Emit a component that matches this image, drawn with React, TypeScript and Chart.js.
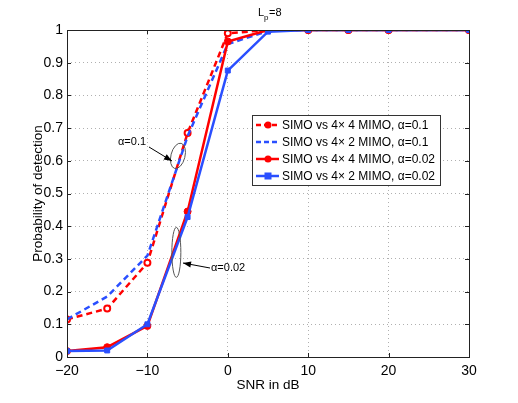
import React, { useEffect, useRef } from "react";
import { Chart, registerables } from "chart.js";

Chart.register(...registerables);

const snr = [-20, -15, -10, -5, 0, 5, 10, 15, 20, 30];
const pd44a01 = [0.115, 0.148, 0.288, 0.685, 0.99, 1, 1, 1, 1, 1];
const pd42a01 = [0.115, 0.185, 0.31, 0.675, 0.957, 0.997, 1, 1, 1, 1];
const pd44a002 = [0.018, 0.03, 0.095, 0.445, 0.965, 1, 1, 1, 1, 1];
const pd42a002 = [0.018, 0.02, 0.1, 0.428, 0.876, 0.995, 1, 1, 1, 1];
const legendLabels = [
  "SIMO vs 4\u00d7 4 MIMO, \u03b1=0.1",
  "SIMO vs 4\u00d7 2 MIMO, \u03b1=0.1",
  "SIMO vs 4\u00d7 4 MIMO, \u03b1=0.02",
  "SIMO vs 4\u00d7 2 MIMO, \u03b1=0.02",
];

const RED = "#ff0000";
const BLUE = "#2a4fff";
const FONT = "'Liberation Sans', Arial, Helvetica, sans-serif";

const toXY = (ys: number[]) => snr.map((x, i) => ({ x, y: ys[i] }));

export default function App() {
  const ref = useRef<HTMLCanvasElement | null>(null);
  useEffect(() => {
    document.body.style.margin = "0";
    const canvas = ref.current!;
    const styles = [
      { color: RED, dash: [6, 4], point: "circle", hollow: true },
      { color: BLUE, dash: [6, 4], point: "none", hollow: false },
      { color: RED, dash: [], point: "circle", hollow: false },
      { color: BLUE, dash: [], point: "rect", hollow: false },
    ];

    const overlay = {
      id: "overlay",
      beforeDatasetsDraw(chart: any) {
        const { ctx, chartArea: a } = chart;
        ctx.save();
        ctx.strokeStyle = "#222";
        ctx.lineWidth = 1;
        const xs = chart.scales.x;
        const ys = chart.scales.y;
        for (let v = -20; v <= 30; v += 10) {
          const px = Math.round(xs.getPixelForValue(v)) + 0.5;
          ctx.beginPath();
          ctx.moveTo(px, a.bottom);
          ctx.lineTo(px, a.bottom - 4);
          ctx.moveTo(px, a.top);
          ctx.lineTo(px, a.top + 4);
          ctx.stroke();
        }
        for (let i = 0; i <= 10; i++) {
          const py = Math.round(ys.getPixelForValue(i / 10)) + 0.5;
          ctx.beginPath();
          ctx.moveTo(a.left, py);
          ctx.lineTo(a.left + 4, py);
          ctx.moveTo(a.right, py);
          ctx.lineTo(a.right - 4, py);
          ctx.stroke();
        }
        ctx.restore();
      },
      afterDraw(chart: any) {
        const { ctx, chartArea: a } = chart;
        const xs = chart.scales.x;
        const ys = chart.scales.y;
        ctx.save();
        ctx.strokeStyle = "#222";
        ctx.lineWidth = 1;
        ctx.strokeRect(Math.round(a.left) + 0.5, Math.round(a.top) + 0.5, Math.round(a.right - a.left), Math.round(a.bottom - a.top));

        // title
        ctx.fillStyle = "#000";
        ctx.font = `11px ${FONT}`;
        ctx.textAlign = "left";
        ctx.textBaseline = "alphabetic";
        ctx.fillText("L", 258, 16);
        ctx.font = `8px ${FONT}`;
        ctx.fillText("p", 264, 20);
        ctx.font = `11px ${FONT}`;
        ctx.fillText("=8", 269, 16);

        // axis titles
        ctx.font = `13.5px ${FONT}`;
        ctx.textAlign = "center";
        ctx.fillText("SNR in dB", (a.left + a.right) / 2, 389);
        ctx.save();
        ctx.translate(42, (a.top + a.bottom) / 2);
        ctx.rotate(-Math.PI / 2);
        ctx.fillText("Probability of detection", 0, 0);
        ctx.restore();

        // ellipses
        ctx.strokeStyle = "#555";
        ctx.lineWidth = 1;
        const e1x = xs.getPixelForValue(-6.2);
        const e1y = ys.getPixelForValue(0.615);
        ctx.beginPath();
        ctx.ellipse(e1x, e1y, 7, 13, 0.25, 0, Math.PI * 2);
        ctx.stroke();
        const e2x = xs.getPixelForValue(-6.4);
        const e2y = ys.getPixelForValue(0.32);
        ctx.beginPath();
        ctx.ellipse(e2x, e2y, 4.5, 25, 0, 0, Math.PI * 2);
        ctx.stroke();

        const arrow = (x1: number, y1: number, x2: number, y2: number) => {
          ctx.strokeStyle = "#000";
          ctx.fillStyle = "#000";
          ctx.beginPath();
          ctx.moveTo(x1, y1);
          ctx.lineTo(x2, y2);
          ctx.stroke();
          const ang = Math.atan2(y2 - y1, x2 - x1);
          const L = 8, W = 3;
          ctx.beginPath();
          ctx.moveTo(x2, y2);
          ctx.lineTo(x2 - L * Math.cos(ang) + W * Math.sin(ang), y2 - L * Math.sin(ang) - W * Math.cos(ang));
          ctx.lineTo(x2 - L * Math.cos(ang) - W * Math.sin(ang), y2 - L * Math.sin(ang) + W * Math.cos(ang));
          ctx.closePath();
          ctx.fill();
        };
        arrow(149, 147, 172, 161);
        arrow(210, 268, 183, 263);

        ctx.fillStyle = "#000";
        ctx.font = `11px ${FONT}`;
        ctx.textAlign = "left";
        ctx.textBaseline = "middle";
        ctx.fillText("\u03b1=0.1", 118, 142);
        ctx.fillText("\u03b1=0.02", 211, 268);

        // legend
        const lx = 252, ly = 115, lw = 188, lh = 70;
        ctx.fillStyle = "#fff";
        ctx.fillRect(lx, ly, lw, lh);
        ctx.strokeStyle = "#333";
        ctx.lineWidth = 1;
        ctx.strokeRect(lx + 0.5, ly + 0.5, lw, lh);
        ctx.font = `12px ${FONT}`;
        legendLabels.forEach((lab, i) => {
          const s = styles[i];
          const cy = ly + 10 + i * 17;
          ctx.strokeStyle = s.color;
          ctx.lineWidth = 2.5;
          ctx.setLineDash(s.dash.length ? [5, 3] : []);
          ctx.beginPath();
          ctx.moveTo(lx + 4, cy);
          ctx.lineTo(lx + 27, cy);
          ctx.stroke();
          ctx.setLineDash([]);
          const mx = lx + 16;
          if (s.point === "circle") {
            ctx.fillStyle = s.color;
            ctx.beginPath();
            ctx.arc(mx, cy, 3.5, 0, Math.PI * 2);
            ctx.fill();
          } else if (s.point === "rect") {
            ctx.fillStyle = s.color;
            ctx.fillRect(mx - 3.5, cy - 3.5, 7, 7);
          }
          ctx.fillStyle = "#000";
          ctx.textBaseline = "middle";
          ctx.fillText(lab, lx + 30, cy + 1);
        });
        ctx.restore();
      },
    };

    const chart = new Chart(canvas, {
      type: "line",
      data: {
        datasets: [pd44a01, pd42a01, pd44a002, pd42a002].map((ys, i) => {
          const s = styles[i];
          return {
            label: legendLabels[i],
            data: toXY(ys),
            borderColor: s.color,
            borderWidth: 2.5,
            borderDash: s.dash,
            pointStyle: s.point === "none" ? false : (s.point as any),
            pointRadius: s.point === "none" ? 0 : s.hollow ? 3 : 3.5,
            pointBackgroundColor: s.hollow ? "#fff" : s.color,
            pointBorderColor: s.color,
            pointBorderWidth: s.hollow ? 2 : 1,
            tension: 0,
            fill: false,
            order: 4 - i,
          } as any;
        }),
      },
      options: {
        animation: false,
        responsive: false,
        maintainAspectRatio: false,
        layout: { padding: { left: 0, top: 30, right: 49, bottom: 0 } },
        plugins: { legend: { display: false }, tooltip: { enabled: false }, title: { display: false } },
        scales: {
          x: {
            type: "linear",
            min: -20,
            max: 30,
            border: { display: false, dash: [1, 3] },
            grid: { color: "#b0b0b0", lineWidth: 1, drawTicks: false },
            ticks: {
              stepSize: 10,
              padding: 6,
              color: "#000",
              font: { family: FONT, size: 14 },
              callback: (v: any) => (Number(v) < 0 ? "\u2212" + Math.abs(Number(v)) : String(v)),
            },
            afterFit: (s: any) => { s.height = 46; },
          },
          y: {
            type: "linear",
            min: 0,
            max: 1,
            border: { display: false, dash: [1, 3] },
            grid: { color: "#b0b0b0", lineWidth: 1, drawTicks: false },
            ticks: {
              stepSize: 0.1,
              padding: 4,
              color: "#000",
              font: { family: FONT, size: 14 },
              callback: (v: any) => String(Math.round(Number(v) * 10) / 10),
            },
            afterFit: (s: any) => { s.width = 67; },
          },
        },
      },
      plugins: [overlay],
    });
    return () => chart.destroy();
  }, []);

  return (
    <div style={{ position: "absolute", left: 0, top: 0, width: 518, height: 403, background: "#fff" }}>
      <canvas ref={ref} width={518} height={403} style={{ width: 518, height: 403 }} />
    </div>
  );
}
